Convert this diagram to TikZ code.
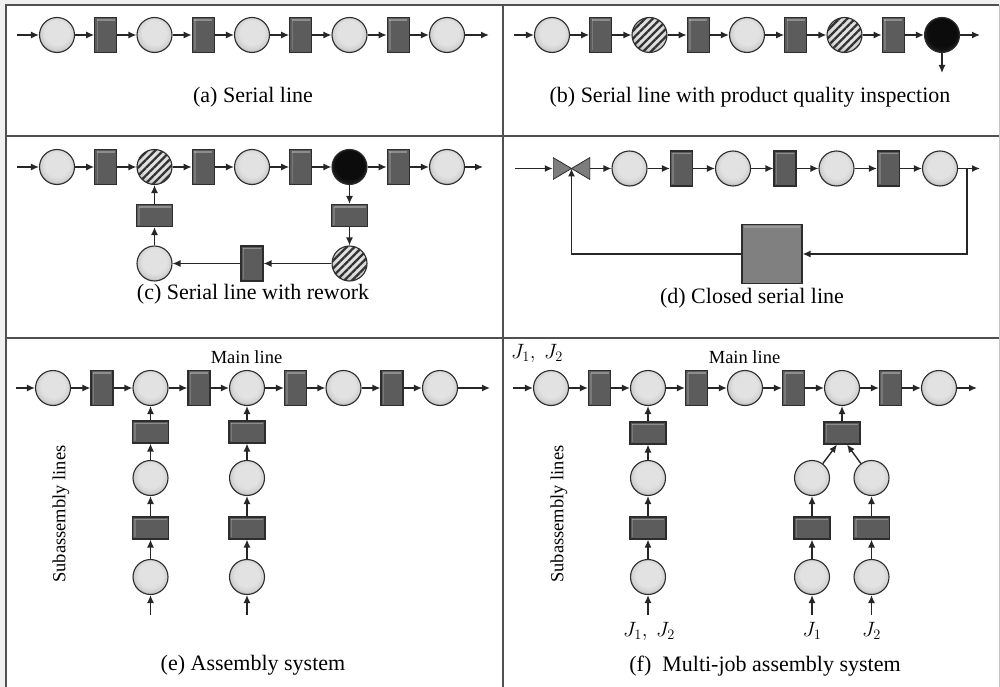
\documentclass[tikz,border=0pt]{standalone}
\usepackage{fontspec}
\setmainfont{Liberation Serif}
\usetikzlibrary{arrows.meta,patterns.meta}
\definecolor{beadA}{RGB}{226,226,226}
\definecolor{beadB}{RGB}{208,208,208}
\definecolor{beadC}{RGB}{125,125,125}
\definecolor{darkA}{RGB}{12,12,12}
\definecolor{darkB}{RGB}{30,30,30}
\definecolor{darkC}{RGB}{95,95,95}
\definecolor{edgec}{RGB}{45,45,45}
\definecolor{machc}{RGB}{92,92,92}
\definecolor{framec}{RGB}{80,80,80}
\definecolor{sqc}{RGB}{128,128,128}
\definecolor{valvec}{RGB}{125,125,125}
\pgfdeclareradialshading{bead}{\pgfpoint{0bp}{5bp}}{color(0bp)=(beadA); color(17bp)=(beadA); color(24bp)=(beadB); color(30bp)=(beadC); color(50bp)=(beadC)}
\pgfdeclareradialshading{darkbead}{\pgfpoint{0bp}{5bp}}{color(0bp)=(darkA); color(20bp)=(darkA); color(26bp)=(darkB); color(30bp)=(darkC); color(50bp)=(darkC)}
\tikzset{
 buf/.style={circle, draw=edgec, line width=1.1pt, minimum size=35pt, inner sep=0pt, shade, shading=bead},
 hbuf/.style={buf, postaction={pattern={Lines[angle=45,distance=5.5pt,line width=2.3pt]}, pattern color=black!80}},
 ibuf/.style={buf, shading=darkbead},
 mach/.style={rectangle, draw=edgec, line width=1.1pt, fill=machc, minimum width=22pt, minimum height=35pt, inner sep=0pt,
   path picture={\draw[white,opacity=0.3,line width=1.5pt] ([xshift=2pt,yshift=-2.5pt]path picture bounding box.north west) -- ([xshift=-2pt,yshift=-2.5pt]path picture bounding box.north east);
     \draw[white,opacity=0.18,line width=1.5pt] ([xshift=2.5pt,yshift=-2pt]path picture bounding box.north west) -- ([xshift=2.5pt,yshift=2pt]path picture bounding box.south west);}},
 hmach/.style={mach, minimum width=36pt, minimum height=22pt},
 bigsq/.style={rectangle, draw=edgec, line width=1.1pt, fill=sqc, minimum width=60pt, minimum height=59pt, inner sep=0pt,
   path picture={\draw[white,opacity=0.2,line width=1.5pt] ([xshift=2pt,yshift=-2.5pt]path picture bounding box.north west) -- ([xshift=-2pt,yshift=-2.5pt]path picture bounding box.north east);}},
 valve/.style={rectangle, minimum width=37pt, minimum height=22pt, inner sep=0pt,
   path picture={\filldraw[fill=valvec, draw=edgec, line width=0.8pt] (path picture bounding box.north west) -- (path picture bounding box.center) -- (path picture bounding box.south west) -- cycle;
     \filldraw[fill=valvec, draw=edgec, line width=0.8pt] (path picture bounding box.north east) -- (path picture bounding box.center) -- (path picture bounding box.south east) -- cycle;}},
 flow/.style={-{Latex[length=8pt,width=7pt]}, line width=1.4pt, draw=black!85},
 captxt/.style={font=\fontsize{22}{26}\selectfont, inner sep=0pt},
 lab/.style={font=\fontsize{18.5}{22}\selectfont, inner sep=0pt},
 jlab/.style={font=\fontsize{20}{24}\selectfont, inner sep=0pt},
}
\begin{document}
\begin{tikzpicture}[x=1pt,y=-1pt]
\useasboundingbox (0,0) rectangle (1000,687);
% frame
\fill[gray!12] (0,0) rectangle (1000,687);
\fill[white] (6,5) rectangle (999,687);
\draw[framec, line width=1.5pt] (6,687) -- (6,5) -- (999,5);
\draw[gray!45, line width=1pt] (999,5) -- (999,687);
\draw[framec, line width=1.5pt] (6,136) -- (999,136);
\draw[framec, line width=1.5pt] (6,338) -- (999,338);
\draw[framec, line width=1.5pt] (503,5) -- (503,687);

% (a)
\coordinate (a0) at (17,35);
\node[buf] (a1) at (57,35) {};
\node[mach] (a2) at (105.75,35) {};
\node[buf] (a3) at (154.5,35) {};
\node[mach] (a4) at (203.25,35) {};
\node[buf] (a5) at (252,35) {};
\node[mach] (a6) at (300.75,35) {};
\node[buf] (a7) at (349.5,35) {};
\node[mach] (a8) at (398.25,35) {};
\node[buf] (a9) at (447,35) {};
\coordinate (a10) at (489,35);
\foreach \i [evaluate=\i as \j using int(\i+1)] in {0,...,9} \draw[flow] (a\i) -- (a\j);
\node[captxt] (capa) at (253,97) {(a) Serial line};

% (b)
\coordinate (b0) at (514,35);
\node[buf] (b1) at (552,35) {};
\node[mach] (b2) at (600.75,35) {};
\node[hbuf] (b3) at (649.5,35) {};
\node[mach] (b4) at (698.25,35) {};
\node[buf] (b5) at (747,35) {};
\node[mach] (b6) at (795.75,35) {};
\node[hbuf] (b7) at (844.5,35) {};
\node[mach] (b8) at (893.25,35) {};
\node[ibuf] (b9) at (942,35) {};
\coordinate (b10) at (980,35);
\coordinate (bdown) at (942,73);
\foreach \i [evaluate=\i as \j using int(\i+1)] in {0,...,9} \draw[flow] (b\i) -- (b\j);
\draw[flow] (b9) -- (bdown);
\node[captxt] (capb) at (750,97) {(b) Serial line with product quality inspection};

% (c)
\coordinate (c0) at (17,167);
\node[buf] (c1) at (57,167) {};
\node[mach] (c2) at (105.75,167) {};
\node[hbuf] (c3) at (154.5,167) {};
\node[mach] (c4) at (203.25,167) {};
\node[buf] (c5) at (252,167) {};
\node[mach] (c6) at (300.75,167) {};
\node[ibuf] (c7) at (349.5,167) {};
\node[mach] (c8) at (398.25,167) {};
\node[buf] (c9) at (447,167) {};
\coordinate (c10) at (483,167);
\foreach \i [evaluate=\i as \j using int(\i+1)] in {0,...,9} \draw[flow] (c\i) -- (c\j);
\node[hmach] (r1) at (349.5,215.5) {};
\node[hbuf] (r2) at (349.5,263.5) {};
\node[mach] (r3) at (252,263.5) {};
\node[buf] (r4) at (154.5,263.5) {};
\node[hmach] (r5) at (154.5,215.5) {};
\draw[flow] (c7) -- (r1);
\draw[flow] (r1) -- (r2);
\draw[flow] (r2) -- (r3);
\draw[flow] (r3) -- (r4);
\draw[flow] (r4) -- (r5);
\draw[flow] (r5) -- (c3);
\node[captxt] (capc) at (253,294) {(c) Serial line with rework};

% (d)
\coordinate (d0) at (515,168.5);
\node[valve] (dv) at (571.5,168.5) {};
\node[buf] (d1) at (629.5,168.5) {};
\node[mach] (d2) at (681.5,168.5) {};
\node[buf] (d3) at (733,168.5) {};
\node[mach] (d4) at (785,168.5) {};
\node[buf] (d5) at (836.5,168.5) {};
\node[mach] (d6) at (888.5,168.5) {};
\node[buf] (d7) at (940,168.5) {};
\coordinate (d8) at (980,168.5);
\coordinate (dbr) at (967,168.5);
\node[bigsq] (dsq) at (772,254) {};
\draw[flow] (d0) -- (dv.west);
\draw[flow] (dv.east) -- (d1);
\foreach \i [evaluate=\i as \j using int(\i+1)] in {1,...,7} \draw[flow] (d\i) -- (d\j);
\draw[flow] (dbr) |- (dsq.east);
\draw[flow] (dsq.west) -| (dv.center);
\node[captxt] (capd) at (752,298) {(d) Closed serial line};

% (e)
\coordinate (e0) at (16,388);
\node[buf] (e1) at (53,388) {};
\node[mach] (e2) at (102,388) {};
\node[buf] (e3) at (150.5,388) {};
\node[mach] (e4) at (199,388) {};
\node[buf] (e5) at (247,388) {};
\node[mach] (e6) at (295.5,388) {};
\node[buf] (e7) at (343.5,388) {};
\node[mach] (e8) at (392,388) {};
\node[buf] (e9) at (440,388) {};
\coordinate (e10) at (490,388);
\foreach \i [evaluate=\i as \j using int(\i+1)] in {0,...,9} \draw[flow] (e\i) -- (e\j);
\foreach \col/\x in {p/150.5,q/247} {
  \node[hmach] (e\col1) at (\x,432) {};
  \node[buf] (e\col2) at (\x,478) {};
  \node[hmach] (e\col3) at (\x,528) {};
  \node[buf] (e\col4) at (\x,577) {};
  \coordinate (e\col5) at (\x,615);
  \draw[flow] (e\col5) -- (e\col4);
  \draw[flow] (e\col4) -- (e\col3);
  \draw[flow] (e\col3) -- (e\col2);
  \draw[flow] (e\col2) -- (e\col1);
}
\draw[flow] (ep1) -- (e3);
\draw[flow] (eq1) -- (e5);
\node[lab] (mle) at (246.5,357) {Main line};
\node[lab, rotate=90] (sle) at (61,514) {Subassembly lines};
\node[captxt] (cape) at (253,665) {(e) Assembly system};

% (f)
\coordinate (f0) at (513,388);
\node[buf] (f1) at (551,388) {};
\node[mach] (f2) at (599.5,388) {};
\node[buf] (f3) at (648,388) {};
\node[mach] (f4) at (696.5,388) {};
\node[buf] (f5) at (745,388) {};
\node[mach] (f6) at (793.5,388) {};
\node[buf] (f7) at (842,388) {};
\node[mach] (f8) at (890.5,388) {};
\node[buf] (f9) at (939,388) {};
\coordinate (f10) at (977,388);
\foreach \i [evaluate=\i as \j using int(\i+1)] in {0,...,9} \draw[flow] (f\i) -- (f\j);
\node[jlab] (fj0) at (537,353) {$J_1,\ J_2$};
\node[lab] (mlf) at (744.5,357) {Main line};
\node[lab, rotate=90] (slf) at (559,514) {Subassembly lines};
% column under f3
\node[hmach] (fp1) at (648,433) {};
\node[buf] (fp2) at (648,478) {};
\node[hmach] (fp3) at (648,528) {};
\node[buf] (fp4) at (648,577) {};
\coordinate (fp5) at (648,615);
\draw[flow] (fp5) -- (fp4);
\draw[flow] (fp4) -- (fp3);
\draw[flow] (fp3) -- (fp2);
\draw[flow] (fp2) -- (fp1);
\draw[flow] (fp1) -- (f3);
\node[jlab] (fjp) at (649,631) {$J_1,\ J_2$};
% merge under f7
\node[hmach] (fm) at (842,433) {};
\foreach \col/\x in {r/812,s/871.5} {
  \node[buf] (f\col2) at (\x,478) {};
  \node[hmach] (f\col3) at (\x,528) {};
  \node[buf] (f\col4) at (\x,577) {};
  \coordinate (f\col5) at (\x,615);
  \draw[flow] (f\col5) -- (f\col4);
  \draw[flow] (f\col4) -- (f\col3);
  \draw[flow] (f\col3) -- (f\col2);
}
\coordinate (fmL) at ([xshift=-5pt]fm.south);
\coordinate (fmR) at ([xshift=5pt]fm.south);
\draw[flow] (fr2) -- (fmL);
\draw[flow] (fs2) -- (fmR);
\draw[flow] (fm) -- (f7);
\node[jlab] (fjr) at (812,631) {$J_1$};
\node[jlab] (fjs) at (871.5,631) {$J_2$};
\node[captxt] (capf) at (765,666) {(f)\ \ Multi-job assembly system};
\end{tikzpicture}
\end{document}
